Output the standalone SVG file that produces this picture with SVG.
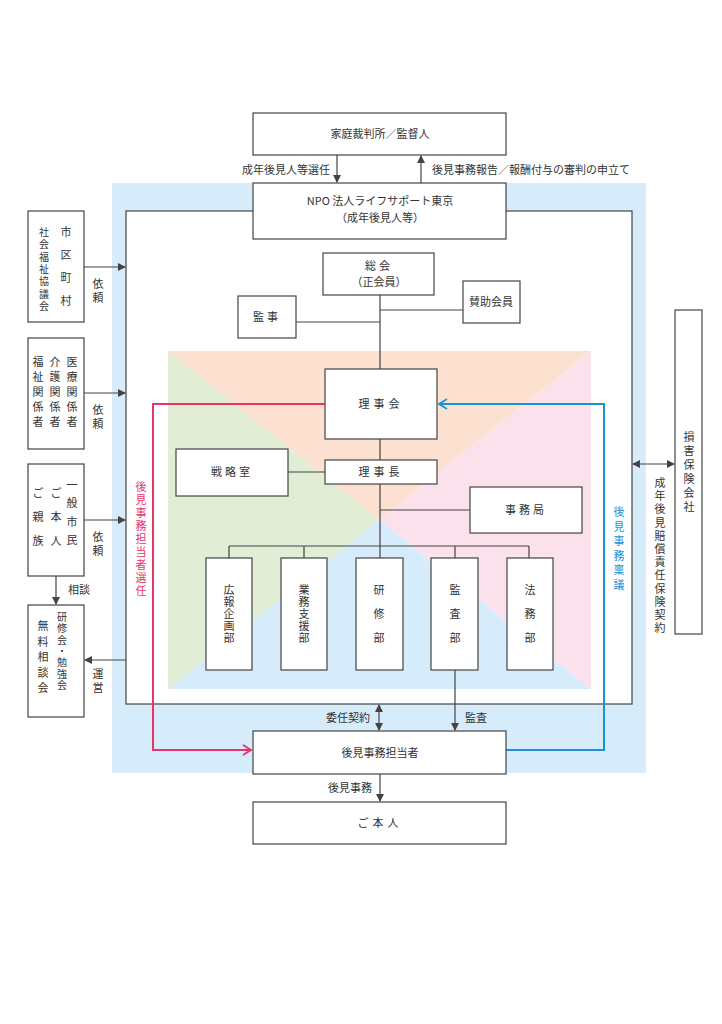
<svg xmlns="http://www.w3.org/2000/svg" width="722" height="1024" viewBox="0 0 722 1024">
<defs>
<style>
.b{fill:#fff;stroke:#444;stroke-width:1.2}
.t{font-family:"Noto Sans CJK JP","Noto Sans",sans-serif;font-size:11px;fill:#333}
.s{font-size:10px}
.m{text-anchor:middle}
.l{stroke:#444;stroke-width:1.2;fill:none}
</style>
<marker id="a" markerWidth="8" markerHeight="8" refX="7" refY="4" orient="auto-start-reverse" markerUnits="userSpaceOnUse"><path d="M0,0L8,4L0,8z" fill="#444"/></marker>
<marker id="r" markerWidth="10" markerHeight="12" refX="9" refY="6" orient="auto" markerUnits="userSpaceOnUse"><path d="M1,1L9,6L1,11" fill="none" stroke="#e8336b" stroke-width="1.8"/></marker>
<marker id="bl" markerWidth="10" markerHeight="12" refX="9" refY="6" orient="auto" markerUnits="userSpaceOnUse"><path d="M1,1L9,6L1,11" fill="none" stroke="#1a93d6" stroke-width="1.8"/></marker>
</defs>
<rect width="722" height="1024" fill="#fff"/>
<rect x="112" y="183" width="534" height="590" fill="#d6ecfa"/>
<rect x="126" y="211" width="506" height="493" fill="#fff" stroke="#444" stroke-width="1.2"/>
<g id="quad">
<polygon points="168,351 591,351 379,520" fill="#fde1d0"/>
<polygon points="168,351 168,689 379,520" fill="#e1edd5"/>
<polygon points="591,351 591,689 379,520" fill="#fbe1ec"/>
<polygon points="168,689 591,689 379,520" fill="#d6ecfa"/>
</g>
<g id="connectors">
<path class="l" d="M337,155V182" marker-end="url(#a)"/>
<path class="l" d="M421,183V156" marker-end="url(#a)"/>
<path class="l" d="M380,295V369M296,322H380M380,310H463M380,439V460M288,472H325M380,484V558M380,510H470M229,546H529M229,546V558M304,546V558M455,546V558M529,546V558"/>
<path class="l" d="M455,670V730" marker-end="url(#a)"/>
<path class="l" d="M379,705V730" marker-start="url(#a)" marker-end="url(#a)"/>
<path class="l" d="M380,774V801" marker-end="url(#a)"/>
<path class="l" d="M84,267H125" marker-end="url(#a)"/>
<path class="l" d="M84,393H125" marker-end="url(#a)"/>
<path class="l" d="M84,520H125" marker-end="url(#a)"/>
<path class="l" d="M126,660H85" marker-end="url(#a)"/>
<path class="l" d="M56,576V604" marker-end="url(#a)"/>
<path class="l" d="M633,464H674" marker-start="url(#a)" marker-end="url(#a)"/>
<path d="M325,404H153V750H251" fill="none" stroke="#e8336b" stroke-width="2" marker-end="url(#r)"/>
<path d="M506,750H604V404H439" fill="none" stroke="#1a93d6" stroke-width="2" marker-end="url(#bl)"/>
</g>
<g id="n1"><rect class="b" x="253" y="113" width="253" height="42"/><text class="t m" x="380" y="138">家庭裁判所／監督人</text></g>
<text class="t" x="330" y="174" text-anchor="end">成年後見人等選任</text>
<text class="t" x="432" y="174">後見事務報告／報酬付与の審判の申立て</text>
<g id="n2"><rect class="b" x="253" y="183" width="253" height="56"/><text class="t m" x="380" y="205">NPO 法人ライフサポート東京</text><text class="t m" x="380" y="222">（成年後見人等）</text></g>
<g id="n3"><rect class="b" x="323" y="253" width="111" height="42"/><text class="t m" x="379" y="270" letter-spacing="3">総会</text><text class="t m" x="379" y="286">（正会員）</text></g>
<g id="n4"><rect class="b" x="238" y="296" width="58" height="42"/><text class="t m" x="267" y="321" letter-spacing="3">監事</text></g>
<g id="n5"><rect class="b" x="463" y="281" width="57" height="42"/><text class="t m" x="491" y="306">賛助会員</text></g>
<g id="n6"><rect class="b" x="325" y="369" width="112" height="70"/><text class="t m" x="381" y="408" letter-spacing="4">理事会</text></g>
<g id="n7"><rect class="b" x="325" y="460" width="112" height="24"/><text class="t m" x="381" y="476" letter-spacing="4">理事長</text></g>
<g id="n8"><rect class="b" x="176" y="449" width="112" height="47"/><text class="t m" x="232" y="476" letter-spacing="3">戦略室</text></g>
<g id="n9"><rect class="b" x="470" y="487" width="112" height="46"/><text class="t m" x="526" y="514" letter-spacing="3">事務局</text></g>
<g id="n10"><rect class="b" x="206" y="558" width="46" height="112"/><text class="t m" x="229" y="594"><tspan x="229">広</tspan><tspan x="229" dy="12">報</tspan><tspan x="229" dy="12">企</tspan><tspan x="229" dy="12">画</tspan><tspan x="229" dy="12">部</tspan></text></g>
<g id="n11"><rect class="b" x="281" y="558" width="46" height="112"/><text class="t m" x="304" y="594"><tspan x="304">業</tspan><tspan x="304" dy="12">務</tspan><tspan x="304" dy="12">支</tspan><tspan x="304" dy="12">援</tspan><tspan x="304" dy="12">部</tspan></text></g>
<g id="n12"><rect class="b" x="356" y="558" width="47" height="112"/><text class="t m" x="379" y="594"><tspan x="379">研</tspan><tspan x="379" dy="24">修</tspan><tspan x="379" dy="24">部</tspan></text></g>
<g id="n13"><rect class="b" x="431" y="558" width="47" height="112"/><text class="t m" x="455" y="594"><tspan x="455">監</tspan><tspan x="455" dy="24">査</tspan><tspan x="455" dy="24">部</tspan></text></g>
<g id="n14"><rect class="b" x="507" y="558" width="46" height="112"/><text class="t m" x="530" y="594"><tspan x="530">法</tspan><tspan x="530" dy="24">務</tspan><tspan x="530" dy="24">部</tspan></text></g>
<g id="n15"><rect class="b" x="253" y="731" width="253" height="43"/><text class="t m" x="380" y="757">後見事務担当者</text></g>
<g id="n16"><rect class="b" x="253" y="802" width="253" height="42"/><text class="t m" x="380" y="827" letter-spacing="4">ご本人</text></g>
<text class="t" x="370" y="722" text-anchor="end">委任契約</text>
<text class="t" x="465" y="722">監査</text>
<text class="t" x="372" y="792" text-anchor="end">後見事務</text>
<text class="t m" x="141" y="491" style="fill:#e8336b"><tspan x="141">後</tspan><tspan x="141" dy="13">見</tspan><tspan x="141" dy="13">事</tspan><tspan x="141" dy="13">務</tspan><tspan x="141" dy="13">担</tspan><tspan x="141" dy="13">当</tspan><tspan x="141" dy="13">者</tspan><tspan x="141" dy="13">選</tspan><tspan x="141" dy="13">任</tspan></text>
<text class="t m" x="619" y="516" style="fill:#1a93d6"><tspan x="619">後</tspan><tspan x="619" dy="14.6">見</tspan><tspan x="619" dy="14.6">事</tspan><tspan x="619" dy="14.6">務</tspan><tspan x="619" dy="14.6">稟</tspan><tspan x="619" dy="14.6">議</tspan></text>
<g id="n17"><rect class="b" x="28" y="211" width="56" height="111"/>
<text class="t m" x="66" y="236"><tspan x="66">市</tspan><tspan x="66" dy="23">区</tspan><tspan x="66" dy="23">町</tspan><tspan x="66" dy="23">村</tspan></text>
<text class="t s m" x="44" y="236"><tspan x="44">社</tspan><tspan x="44" dy="12.3">会</tspan><tspan x="44" dy="12.3">福</tspan><tspan x="44" dy="12.3">祉</tspan><tspan x="44" dy="12.3">協</tspan><tspan x="44" dy="12.3">議</tspan><tspan x="44" dy="12.3">会</tspan></text></g>
<g id="n18"><rect class="b" x="28" y="338" width="56" height="111"/>
<text class="t m" x="72" y="366"><tspan x="72">医</tspan><tspan x="72" dy="15">療</tspan><tspan x="72" dy="15">関</tspan><tspan x="72" dy="15">係</tspan><tspan x="72" dy="15">者</tspan></text>
<text class="t m" x="55" y="366"><tspan x="55">介</tspan><tspan x="55" dy="15">護</tspan><tspan x="55" dy="15">関</tspan><tspan x="55" dy="15">係</tspan><tspan x="55" dy="15">者</tspan></text>
<text class="t m" x="38" y="366"><tspan x="38">福</tspan><tspan x="38" dy="15">祉</tspan><tspan x="38" dy="15">関</tspan><tspan x="38" dy="15">係</tspan><tspan x="38" dy="15">者</tspan></text></g>
<g id="n19"><rect class="b" x="28" y="464" width="56" height="112"/>
<text class="t m" x="72" y="489"><tspan x="72">一</tspan><tspan x="72" dy="18.3">般</tspan><tspan x="72" dy="18.3">市</tspan><tspan x="72" dy="18.3">民</tspan></text>
<text class="t m" x="56" y="497"><tspan x="56">ご</tspan><tspan x="56" dy="24">本</tspan><tspan x="56" dy="24">人</tspan></text>
<text class="t m" x="38" y="497"><tspan x="38">ご</tspan><tspan x="38" dy="24">親</tspan><tspan x="38" dy="24">族</tspan></text></g>
<g id="n20"><rect class="b" x="28" y="605" width="56" height="112"/>
<text class="t s m" x="62" y="621"><tspan x="62">研</tspan><tspan x="62" dy="11.3">修</tspan><tspan x="62" dy="11.3">会</tspan><tspan x="62" dy="11.3">・</tspan><tspan x="62" dy="11.3">勉</tspan><tspan x="62" dy="11.3">強</tspan><tspan x="62" dy="11.3">会</tspan></text>
<text class="t m" x="43" y="630"><tspan x="43">無</tspan><tspan x="43" dy="15.5">料</tspan><tspan x="43" dy="15.5">相</tspan><tspan x="43" dy="15.5">談</tspan><tspan x="43" dy="15.5">会</tspan></text></g>
<text class="t m" x="98" y="288"><tspan x="98">依</tspan><tspan x="98" dy="14">頼</tspan></text>
<text class="t m" x="98" y="414"><tspan x="98">依</tspan><tspan x="98" dy="14">頼</tspan></text>
<text class="t m" x="98" y="541"><tspan x="98">依</tspan><tspan x="98" dy="14">頼</tspan></text>
<text class="t m" x="98" y="678"><tspan x="98">運</tspan><tspan x="98" dy="14">営</tspan></text>
<text class="t" x="68" y="594">相談</text>
<g id="n21"><rect class="b" x="675" y="310" width="27" height="324"/>
<text class="t m" x="689" y="441"><tspan x="689">損</tspan><tspan x="689" dy="14">害</tspan><tspan x="689" dy="14">保</tspan><tspan x="689" dy="14">険</tspan><tspan x="689" dy="14">会</tspan><tspan x="689" dy="14">社</tspan></text></g>
<text class="t m" x="660" y="487"><tspan x="660">成</tspan><tspan x="660" dy="13.2">年</tspan><tspan x="660" dy="13.2">後</tspan><tspan x="660" dy="13.2">見</tspan><tspan x="660" dy="13.2">賠</tspan><tspan x="660" dy="13.2">償</tspan><tspan x="660" dy="13.2">責</tspan><tspan x="660" dy="13.2">任</tspan><tspan x="660" dy="13.2">保</tspan><tspan x="660" dy="13.2">険</tspan><tspan x="660" dy="13.2">契</tspan><tspan x="660" dy="13.2">約</tspan></text>
</svg>
